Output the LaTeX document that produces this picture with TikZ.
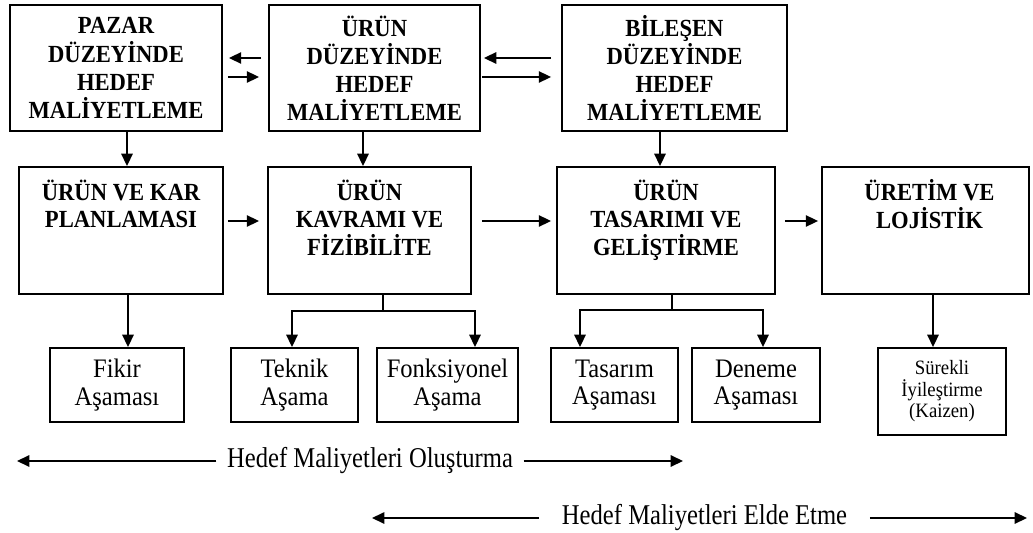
\documentclass[tikz,border=0pt]{standalone}
\usepackage{fontspec}
\setmainfont{Liberation Serif}[FakeStretch=0.92]
\newfontfamily\bandfont{Liberation Serif}[FakeStretch=0.86]
\usetikzlibrary{arrows.meta,calc}

\begin{document}
\begin{tikzpicture}[x=0.02cm,y=-0.02cm,>={Triangle[length=7pt,width=6.5pt]},line width=0.8pt,
    bigbox/.style={draw,line width=1.1pt,inner sep=0pt,minimum height=2.52cm,align=center,font=\bfseries\fontsize{14}{16}\selectfont},
    planbox/.style={draw,line width=1.1pt,inner sep=0pt,minimum height=2.54cm},
    toptext/.style={anchor=north,yshift=-0.14cm,align=center,font=\bfseries\fontsize{14}{15.8}\selectfont},
    phase/.style={draw,line width=1.1pt,inner sep=0pt,minimum height=1.48cm,align=center,font=\fontsize{15.2}{15.8}\selectfont},
    bandtext/.style={inner sep=0pt,inner xsep=0.2cm,font=\bandfont\fontsize{16.3}{18}\selectfont}]
                \useasboundingbox (0,0) rectangle (1033,533);
                \node[bigbox,minimum width=4.24cm] (pazar) at (116,68) {PAZAR\\DÜZEYİNDE\\HEDEF\\MALİYETLEME};
                \node[bigbox,minimum width=4.22cm] (urun) at (374.5,68) {ÜRÜN\\DÜZEYİNDE\\HEDEF\\MALİYETLEME};
                \node[bigbox,minimum width=4.5cm] (bilesen) at (674.5,68) {BİLEŞEN\\DÜZEYİNDE\\HEDEF\\MALİYETLEME};
                \node[planbox,minimum width=4.08cm,label={[toptext]north:{ÜRÜN VE KAR\\PLANLAMASI}}] (plan) at (121,230.5) {};
                \node[planbox,minimum width=4.06cm,label={[toptext]north:{ÜRÜN\\KAVRAMI VE\\FİZİBİLİTE}}] (kavram) at (369.5,230.5) {};
                \node[planbox,minimum width=4.36cm,label={[toptext]north:{ÜRÜN\\TASARIMI VE\\GELİŞTİRME}}] (tasarim) at (666,230.5) {};
                \node[planbox,minimum width=4.14cm,label={[toptext,xshift=0.08cm]north:{ÜRETİM VE\\LOJİSTİK}}] (uretim) at (925.5,230.5) {};
                \node[phase,minimum width=2.68cm] (fikir) at (117,385) {Fikir\\Aşaması};
                \node[phase,minimum width=2.54cm] (teknik) at (294.5,385) {Teknik\\Aşama};
                \node[phase,minimum width=2.82cm] (fonks) at (447.5,385) {Fonksiyonel\\Aşama};
                \node[phase,minimum width=2.54cm] (tasAsama) at (614.5,385) {Tasarım\\Aşaması};
                \node[phase,minimum width=2.56cm] (deneme) at (756,385) {Deneme\\Aşaması};
                \node[phase,minimum width=2.56cm,minimum height=1.74cm,font=\fontsize{11.6}{12.2}\selectfont] (kaizen) at (942,391.5) {Sürekli\\İyileştirme\\(Kaizen)};
                \draw[->] ($(urun.west)+(-7,-10)$) -- ($(pazar.east)+(6,-10)$);
                \draw[->] ($(pazar.east)+(5,9)$) -- ($(urun.west)+(-9,9)$);
                \draw[->] ($(bilesen.west)+(-10,-10)$) -- ($(urun.east)+(3,-10)$);
                \draw[->] ($(urun.east)+(1,9)$) -- ($(bilesen.west)+(-10,9)$);
                \draw[->] (pazar.south -| 127,0) -- (plan.north -| 127,0);
                \draw[->] (urun.south -| 363,0) -- (kavram.north -| 363,0);
                \draw[->] (bilesen.south -| 660,0) -- (tasarim.north -| 660,0);
                \draw[->] ($(plan.east)+(4,-9.5)$) -- ($(kavram.west)+(-8,-9.5)$);
                \draw[->] ($(kavram.east)+(10,-9.5)$) -- ($(tasarim.west)+(-5,-9.5)$);
                \draw[->] ($(tasarim.east)+(9,-9.5)$) -- ($(uretim.west)+(-3,-9.5)$);
                \coordinate (kj) at (383,311);
                \coordinate (tj) at (672,310);
                \draw[->] (plan.south -| 128,0) -- (fikir.north -| 128,0);
                \draw[->] (kavram.south -| kj) -- (kj) -| (teknik.north -| 292,0);
                \draw[->] (kj) -| (fonks.north -| 475,0);
                \draw[->] (tasarim.south -| tj) -- (tj) -| (tasAsama.north -| 580,0);
                \draw[->] (tj) -| (deneme.north -| 763,0);
                \draw[->] (uretim.south -| 933,0) -- (kaizen.north -| 933,0);
                \node[bandtext] (olustur) at (370,461) {Hedef Maliyetleri Oluşturma};
                \node[bandtext,inner xsep=0.44cm] (eldeet) at (704.5,518) {Hedef Maliyetleri Elde Etme};
                \coordinate (o1) at (17,461);
                \coordinate (o2) at (683,461);
                \coordinate (e1) at (372,518);
                \coordinate (e2) at (1027,518);
                \draw[->] (olustur.west) -- (o1);
                \draw[->] (olustur.east) -- (o2);
                \draw[->] (eldeet.west) -- (e1);
                \draw[->] (eldeet.east) -- (e2);
\end{tikzpicture}
\end{document}
